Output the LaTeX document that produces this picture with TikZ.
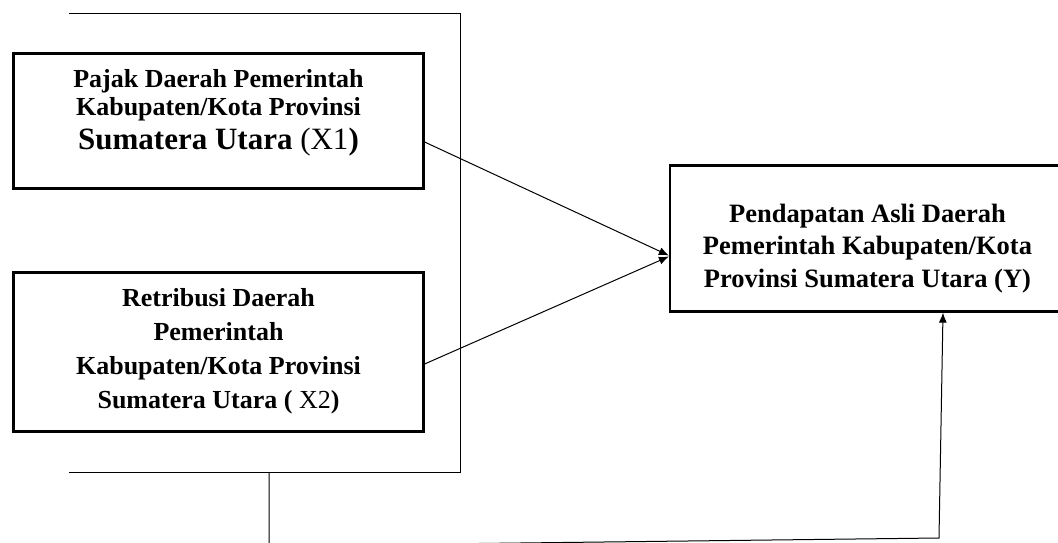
\documentclass[tikz,border=0pt]{standalone}
\usepackage{fontspec}
\setmainfont{Liberation Serif}
\usetikzlibrary{arrows.meta}
\begin{document}
\begin{tikzpicture}[x=1pt,y=-1pt,
  box/.style={draw,line width=2.2pt,inner sep=0pt},
  txt/.style={inner sep=0pt},
  conn/.style={line width=1pt},
  arr/.style={conn,-{Latex[length=10pt,width=8pt]}}]
\useasboundingbox (0,0) rectangle (1058,543);
% boxes
\node[box,minimum width=410pt,minimum height=135pt] (x1) at (218.5,121) {};
\node[box,minimum width=410pt,minimum height=159pt] (x2) at (218.5,352) {};
\node[box,minimum width=400pt,minimum height=146pt] (y) at (870,238.5) {};
% texts
\node[txt] (x1t) at (218.5,112.9) {\fontsize{26}{28}\selectfont\bfseries
  \begin{tabular}{@{}c@{}}Pajak Daerah Pemerintah\\Kabupaten/Kota Provinsi\\[5pt]{\fontsize{31}{31}\selectfont Sumatera Utara {\mdseries(X1}{)}}\end{tabular}};
\node[txt] (x2t) at (218.5,350.8) {\fontsize{26}{33.7}\selectfont\bfseries
  \begin{tabular}{@{}c@{}}Retribusi Daerah\\Pemerintah\\Kabupaten/Kota Provinsi\\Sumatera Utara ( {\mdseries X2})\end{tabular}};
\node[txt] (yt) at (867.5,248) {\fontsize{26.5}{32.5}\selectfont\bfseries
  \begin{tabular}{@{}c@{}}Pendapatan Asli Daerah\\Pemerintah Kabupaten/Kota\\Provinsi Sumatera Utara (Y)\end{tabular}};
% bracket
\coordinate (b1) at (69,14);
\coordinate (b2) at (460,14);
\coordinate (b3) at (460,472);
\coordinate (b4) at (69,472);
\coordinate (s0) at (269,472);
\coordinate (s1) at (269,546);
\coordinate (c1) at (939,538);
\draw[conn] (b1) -- (b2) -- (b3) -- (b4);
% connectors
\draw[arr] ([yshift=-21pt]x1.east) -- ([yshift=-17pt]y.west);
\draw[arr] ([yshift=-12pt]x2.east) -- ([yshift=-18pt]y.west);
\draw[arr] (s0) -- (s1) -- (c1) -- ([xshift=73pt]y.south);
\end{tikzpicture}
\end{document}
